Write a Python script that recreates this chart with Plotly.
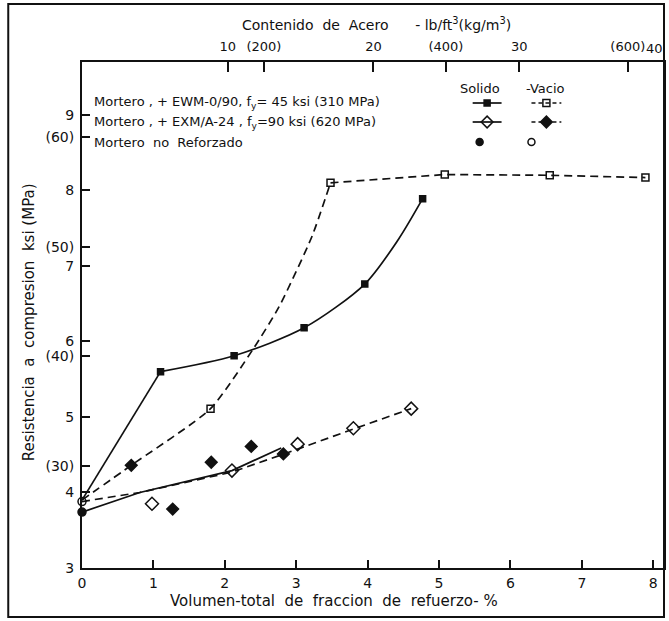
import plotly.graph_objects as go

# ---------------- data ----------------
# Mortero + EWM-0/90 (solid = filled squares, void = hollow squares)
ewm_solid_x = [1.10, 2.13, 3.11, 3.96, 4.77]
ewm_solid_y = [5.60, 5.81, 6.18, 6.76, 7.89]
ewm_void_x = [1.80, 3.48, 5.08, 6.55, 7.89]
ewm_void_y = [5.11, 8.10, 8.21, 8.20, 8.17]
# Mortero + EXM/A-24 (solid = hollow diamonds, void = filled diamonds)
exm_solid_x = [0.98, 2.10, 3.02, 3.80, 4.61]
exm_solid_y = [3.85, 4.29, 4.64, 4.85, 5.11]
exm_void_x = [0.69, 1.27, 1.81, 2.37, 2.82]
exm_void_y = [4.36, 3.78, 4.40, 4.61, 4.51]
# Mortero no reforzado
plain_solid_x = [0.0]
plain_solid_y = [3.74]
plain_void_x = [0.0]
plain_void_y = [3.88]

# hand-drawn curves
ewm_solid_seg1_x = [0.0, 1.10]
ewm_solid_seg1_y = [3.90, 5.60]
ewm_solid_seg2_x = [1.10, 2.13, 3.11, 3.96, 4.43, 4.77]
ewm_solid_seg2_y = [5.60, 5.81, 6.18, 6.76, 7.35, 7.89]
ewm_void_rise_x = [0.0, 0.69, 1.80, 2.39, 2.76, 3.22, 3.48]
ewm_void_rise_y = [3.90, 4.36, 5.11, 5.89, 6.46, 7.39, 8.10]
ewm_void_flat_x = [3.48, 5.08, 6.55, 7.89]
ewm_void_flat_y = [8.10, 8.21, 8.20, 8.17]
exm_solid_line_x = [0.0, 0.81, 2.10, 2.79]
exm_solid_line_y = [3.74, 4.00, 4.29, 4.59]
exm_void_line_x = [0.0, 0.81, 2.10, 2.83, 3.80, 4.61]
exm_void_line_y = [3.88, 4.00, 4.27, 4.51, 4.84, 5.11]

# axis ticks
x_ticks = [0, 1, 2, 3, 4, 5, 6, 7, 8]
y_ticks_ksi = [3, 4, 5, 6, 7, 8, 9]
y_ticks_mpa = [30, 40, 50, 60]
top_lb_ticks = [10, 20, 30]
top_kg_ticks = [200, 400, 600]
STEEL_LB = 490.0     # lb/ft3
STEEL_KG = 7850.0    # kg/m3
KSI_PER_MPA = 1 / 6.895

# ---------------- layout geometry ----------------
W, H = 669, 621
L, R, T, B = 82, 3, 62, 53
PW, PH = W - L - R, H - T - B
XR = [0, 8.15]
YR = [3, 9.70]


def px(xp):
    return (xp - L) / PW


def py(yp):
    return (H - B - yp) / PH


def dx(xp):
    return XR[0] + (xp - L) / PW * (XR[1] - XR[0])


def dy(yp):
    return YR[0] + (H - B - yp) / PH * (YR[1] - YR[0])


FONT = "DejaVu Sans"
BLACK = "#111111"

fig = go.Figure()

line_solid = dict(color=BLACK, width=1.7)
line_dash = dict(color=BLACK, width=1.7, dash="8px,5px")

# curves
fig.add_trace(go.Scatter(x=ewm_solid_seg1_x, y=ewm_solid_seg1_y, mode="lines", line=line_solid))
fig.add_trace(go.Scatter(x=ewm_solid_seg2_x, y=ewm_solid_seg2_y, mode="lines",
                         line=dict(line_solid, shape="spline", smoothing=0.8)))
fig.add_trace(go.Scatter(x=ewm_void_rise_x, y=ewm_void_rise_y, mode="lines",
                         line=dict(line_dash, shape="spline", smoothing=0.6)))
fig.add_trace(go.Scatter(x=ewm_void_flat_x, y=ewm_void_flat_y, mode="lines", line=line_dash))
fig.add_trace(go.Scatter(x=exm_solid_line_x, y=exm_solid_line_y, mode="lines", line=line_solid))
fig.add_trace(go.Scatter(x=exm_void_line_x, y=exm_void_line_y, mode="lines", line=line_dash))


# markers
def mk(xs, ys, symbol, size):
    fig.add_trace(go.Scatter(x=xs, y=ys, mode="markers",
                             marker=dict(symbol=symbol, size=size, color=BLACK,
                                         line=dict(color=BLACK, width=1.5)),
                             cliponaxis=False))


mk(ewm_solid_x, ewm_solid_y, "square", 6)
mk(ewm_void_x, ewm_void_y, "square-open", 7)
mk(exm_solid_x, exm_solid_y, "diamond-open", 10)
mk(exm_void_x, exm_void_y, "diamond", 9)
mk(plain_solid_x, plain_solid_y, "circle", 8)
mk(plain_void_x, plain_void_y, "circle-open", 8)

# legend samples (custom, drawn inside the plot)
rows = [103, 122, 142]
sol = (474, 503)
vac = (533, 563)
dash_small = dict(color=BLACK, width=1.5, dash="4px,3px")
fig.add_trace(go.Scatter(x=[dx(sol[0]), dx(sol[1])], y=[dy(rows[0])] * 2, mode="lines", line=line_solid))
mk([dx(sum(sol) / 2)], [dy(rows[0])], "square", 6)
fig.add_trace(go.Scatter(x=[dx(vac[0]), dx(vac[1])], y=[dy(rows[0])] * 2, mode="lines", line=dash_small))
mk([dx(sum(vac) / 2)], [dy(rows[0])], "square-open", 7)
fig.add_trace(go.Scatter(x=[dx(sol[0]), dx(sol[1])], y=[dy(rows[1])] * 2, mode="lines", line=line_solid))
mk([dx(sum(sol) / 2)], [dy(rows[1])], "diamond-open", 9)
fig.add_trace(go.Scatter(x=[dx(vac[0]), dx(vac[1])], y=[dy(rows[1])] * 2, mode="lines", line=dash_small))
mk([dx(sum(vac) / 2)], [dy(rows[1])], "diamond", 9)
mk([dx(481)], [dy(rows[2])], "circle", 7)
mk([dx(533)], [dy(rows[2])], "circle-open", 7)

# invisible trace on the top axis
top_vals = [v / STEEL_LB * 100 for v in top_lb_ticks] + [v / STEEL_KG * 100 for v in top_kg_ticks]
top_text = [str(v) for v in top_lb_ticks] + ["(%d)" % v for v in top_kg_ticks]
fig.add_trace(go.Scatter(x=top_vals, y=[5] * len(top_vals), xaxis="x2", mode="markers",
                         marker=dict(opacity=0), hoverinfo="skip"))

y_vals = y_ticks_ksi + [m * KSI_PER_MPA for m in y_ticks_mpa]
y_text = [str(v) for v in y_ticks_ksi] + ["(%d)" % m for m in y_ticks_mpa]

axis_common = dict(showgrid=False, zeroline=False, showline=True, linecolor=BLACK, linewidth=2,
                   ticks="inside", tickcolor=BLACK, tickwidth=1.5)

fig.update_layout(
    width=W, height=H,
    margin=dict(l=L, r=R, t=T, b=B, pad=0),
    paper_bgcolor="white", plot_bgcolor="white",
    showlegend=False,
    font=dict(family=FONT, color=BLACK),
    xaxis=dict(axis_common, range=XR, tickvals=x_ticks, ticktext=[str(v) for v in x_ticks],
               ticklen=8, tickfont=dict(size=14, family=FONT, color=BLACK), ticklabelstandoff=1),
    xaxis2=dict(axis_common, range=XR, overlaying="x", side="top", tickvals=top_vals,
                ticktext=top_text, ticklen=10, tickfont=dict(size=13, family=FONT, color=BLACK),
                ticklabelstandoff=4),
    yaxis=dict(axis_common, range=YR, tickvals=y_vals, ticktext=y_text, ticklen=8, mirror=True,
               tickfont=dict(size=14, family=FONT, color=BLACK), ticklabelstandoff=3),
)

ann = []


def text(xp, yp, s, size=13, xanchor="left", angle=0):
    ann.append(dict(x=px(xp), y=py(yp), xref="paper", yref="paper", text=s, showarrow=False,
                    xanchor=xanchor, yanchor="middle", textangle=angle,
                    font=dict(size=size, family=FONT, color=BLACK)))


text(92, rows[0], "Mortero , + EWM-0/90, f<sub>y</sub>= 45 ksi (310 MPa)", 13)
text(92, rows[1], "Mortero , + EXM/A-24 , f<sub>y</sub>=90 ksi (620 MPa)", 13)
text(92, rows[2], "Mortero  no  Reforzado", 13)
text(481, 88, "Solido", 13, "center")
text(547, 88, "-Vacio", 13, "center")
text(378, 24, "Contenido  de  Acero      - lb/ft<sup>3</sup>(kg/m<sup>3</sup>)", 14, "center")
text(656, 49, "40", 13, "center")
text(335, 601, "Volumen-total  de  fraccion  de  refuerzo- %", 15, "center")
text(29, 322, "Resistencia  a  compresion  ksi (MPa)", 15, "center", -90)
fig.update_layout(annotations=ann)

# outer frame
fig.add_shape(type="rect", xref="paper", yref="paper", x0=px(8), x1=px(666), y0=py(617), y1=py(4),
              line=dict(color=BLACK, width=2))

fig.write_html("out.html")
